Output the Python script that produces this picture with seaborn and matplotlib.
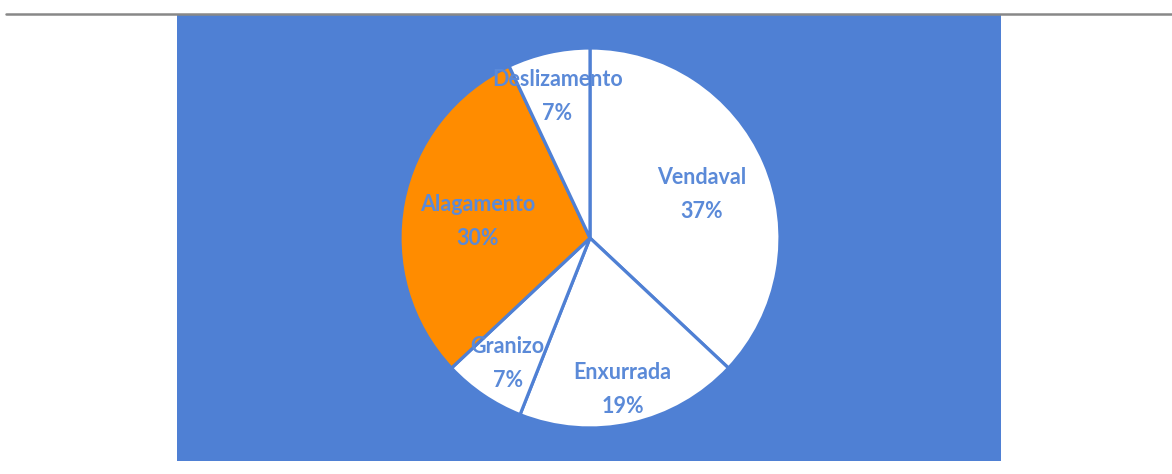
import numpy as np
import seaborn as sns
import matplotlib.pyplot as plt
from matplotlib.patches import Rectangle

# Data
labels = ['Vendaval', 'Enxurrada', 'Granizo', 'Alagamento', 'Deslizamento']
shares = [37, 19, 7, 30, 7]
label_dist = [0.64, 0.79, 0.77, 0.60, 0.79]

bg_blue = '#4F80D4'
text_blue = '#5B8AD8'
slice_colors = ['white', 'white', 'white', '#FF8C00', 'white']

sns.set_style("white")
plt.rcParams['font.family'] = ['Lato', 'DejaVu Sans']

fig = plt.figure(figsize=(11.72, 4.74), dpi=100)
fig.patch.set_facecolor('white')

# background layer: blue panel and top rule (pixel coords)
bg = fig.add_axes([0, 0, 1, 1], zorder=0)
bg.set_xlim(0, 1172)
bg.set_ylim(474, 0)
bg.axis('off')
bg.add_patch(Rectangle((177, 15), 824, 446, facecolor=bg_blue, edgecolor='none'))
bg.plot([6, 1172], [13.5, 13.5], color='#888888', linewidth=1.8)

ax = fig.add_axes([400 / 1172, 46 / 474, 380 / 1172, 380 / 474], zorder=1)
ax.set_facecolor('none')
wedges, _ = ax.pie(shares, colors=slice_colors, startangle=90, counterclock=False,
                   radius=1, wedgeprops=dict(edgecolor=bg_blue, linewidth=2.3))
ax.set_xlim(-1, 1)
ax.set_ylim(-1, 1)
ax.set_aspect('equal')
ax.axis('off')

# labels sit a little below the geometric point, like the Excel original
for w, lab, val, d in zip(wedges, labels, shares, label_dist):
    ang = np.deg2rad((w.theta1 + w.theta2) / 2)
    ax.text(d * np.cos(ang), d * np.sin(ang) - 0.025, f'{lab}\n{val}%',
            ha='center', va='center', color=text_blue, fontsize=15.5,
            fontweight='bold', linespacing=1.75)

plt.savefig('out.png', dpi=100)
